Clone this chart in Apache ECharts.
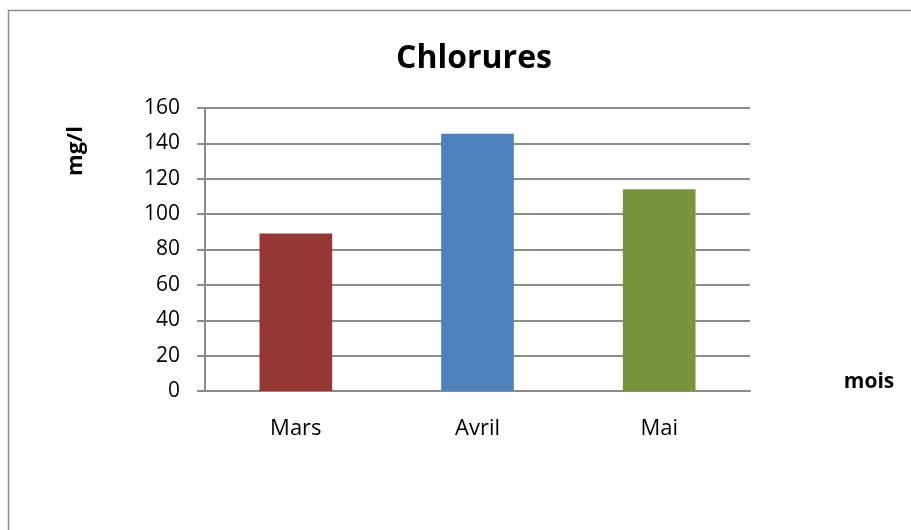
<!DOCTYPE html>
<html>
<head>
<meta charset="utf-8">
<script src="https://cdn.jsdelivr.net/npm/echarts@6/dist/echarts.min.js"></script>
<style>html,body{margin:0;padding:0;background:#fff}#c{width:911px;height:530px}</style>
</head>
<body>
<div id="c"></div>
<script>
const categories = ['Mars', 'Avril', 'Mai'];
const values = [89, 145.5, 114];
const colors = ['#953735', '#4F81BD', '#77933C'];
const yTicks = [0, 20, 40, 60, 80, 100, 120, 140, 160];

const chart = echarts.init(document.getElementById('c'));
const font = '"Open Sans", "Noto Sans", sans-serif';
chart.setOption({
  animation: false,
  backgroundColor: '#fff',
  title: {
    text: 'Chlorures', left: 469, top: 38, textAlign: 'center',
    textStyle: { fontFamily: font, fontWeight: 'bold', fontSize: 32, color: '#000' }
  },
  grid: { left: 205, right: 161, top: 108, bottom: 139 },
  xAxis: {
    type: 'category', data: categories,
    axisLine: { lineStyle: { color: '#8c8c8c', width: 2 } },
    axisTick: { show: false },
    axisLabel: { margin: 27, fontFamily: font, fontSize: 22, color: '#000' }
  },
  yAxis: {
    type: 'value', min: yTicks[0], max: yTicks[yTicks.length - 1], interval: 20,
    axisLine: { show: true, lineStyle: { color: '#8c8c8c', width: 2 } },
    axisTick: { show: true, length: 8, lineStyle: { color: '#8c8c8c', width: 2 } },
    splitLine: { lineStyle: { color: '#8c8c8c', width: 2 } },
    axisLabel: { margin: 25, fontFamily: font, fontSize: 21, color: '#000' }
  },
  series: [{
    type: 'bar', barWidth: '40%',
    data: values.map((v, i) => ({ value: v, itemStyle: { color: colors[i] } }))
  }],
  graphic: [
    { type: 'rect', silent: true, z: -1, shape: { x: 8.5, y: 10.5, width: 1200, height: 1200 },
      style: { fill: 'none', stroke: '#8c8c8c', lineWidth: 1.5 } },
    { type: 'text', x: 76, y: 151, rotation: Math.PI / 2,
      style: { text: 'mg/l', fontFamily: font, fontWeight: 'bold', fontSize: 22, fill: '#000',
               align: 'center', verticalAlign: 'middle' } },
    { type: 'text', x: 869, y: 382,
      style: { text: 'mois', fontFamily: font, fontWeight: 'bold', fontSize: 21, fill: '#000',
               align: 'center', verticalAlign: 'middle' } }
  ]
});
</script>
</body>
</html>
